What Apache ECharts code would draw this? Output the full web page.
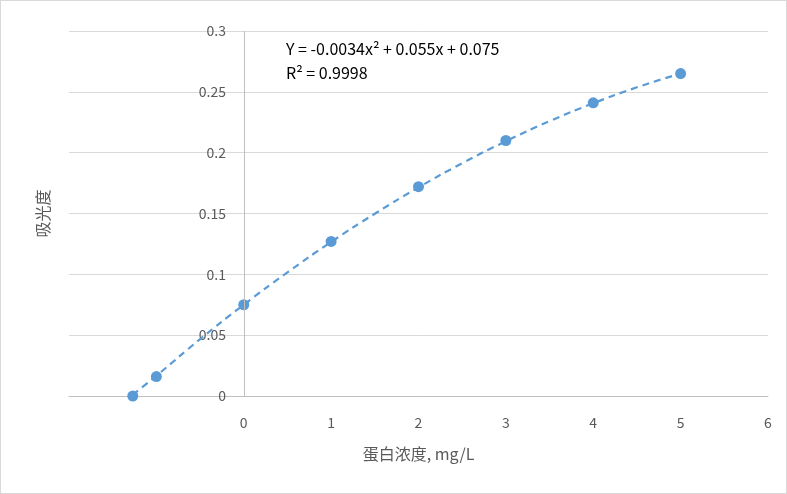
<!DOCTYPE html>
<html><head><meta charset="utf-8">
<script src="https://cdn.jsdelivr.net/npm/echarts@6/dist/echarts.min.js"></script>
<style>body{margin:0}#c{width:787px;height:494px;box-sizing:border-box;border:1px solid #d9d9d9}</style>
</head><body><div id="c"></div>
<script>
var xVals = [-1.27, -1.0, 0, 1, 2, 3, 4, 5];
var yVals = [0.000, 0.016, 0.075, 0.127, 0.172, 0.210, 0.241, 0.265];
var trendX = [-1.27, -1, -0.5, 0, 0.5, 1, 1.5, 2, 2.5, 3, 3.5, 4, 4.5, 5];
var trendY = [0.001, 0.0166, 0.0467, 0.075, 0.1016, 0.1266, 0.1498, 0.1714, 0.1913, 0.2094, 0.2259, 0.2406, 0.2537, 0.265];

var chart = echarts.init(document.getElementById('c'));
var font = '"Noto Sans CJK SC",sans-serif';
chart.setOption({
  animation: false,
  textStyle: {fontFamily: font},
  grid: {left: 68, right: 18, top: 30, bottom: 97, outerBoundsMode: 'none', containLabel: false},
  xAxis: {
    type: 'value', min: -2, max: 6, interval: 1,
    splitLine: {show: false},
    axisLine: {onZero: false, lineStyle: {color: '#bfbfbf'}},
    axisTick: {show: false},
    axisLabel: {color: '#595959', fontSize: 14, margin: 20,
      formatter: function (v) { return v < 0 ? '' : v; }},
    name: '蛋白浓度, mg/L', nameLocation: 'middle', nameGap: 50,
    nameTextStyle: {color: '#595959', fontSize: 16}
  },
  yAxis: {
    type: 'value', min: 0, max: 0.3, interval: 0.05,
    axisLine: {show: false},
    axisTick: {show: false},
    splitLine: {lineStyle: {color: '#d9d9d9'}},
    axisLabel: {color: '#595959', fontSize: 14, margin: -157,
      formatter: function (v) { return String(Math.round(v * 100) / 100); }},
    name: '吸光度', nameLocation: 'middle', nameGap: 18,
    nameTextStyle: {color: '#595959', fontSize: 16}
  },
  graphic: [
    {type: 'text', left: 285, top: 40, style: {text: 'Y = -0.0034x² + 0.055x + 0.075', fill: '#000', font: '16px ' + font}},
    {type: 'text', left: 285, top: 64, style: {text: 'R² = 0.9998', fill: '#000', font: '16px ' + font}}
  ],
  series: [
    {type: 'line', data: trendX.map(function (x, i) { return [x, trendY[i]]; }),
      smooth: true, showSymbol: false, symbol: 'none',
      lineStyle: {color: '#5b9bd5', width: 2.2, type: [7, 5]},
      markLine: {silent: true, symbol: 'none', label: {show: false},
        lineStyle: {color: '#bfbfbf', width: 1, type: 'solid'},
        data: [{xAxis: 0}]}},
    {type: 'scatter', data: xVals.map(function (x, i) { return [x, yVals[i]]; }),
      symbolSize: 11, itemStyle: {color: '#5b9bd5', opacity: 1}}
  ]
});
</script></body></html>
